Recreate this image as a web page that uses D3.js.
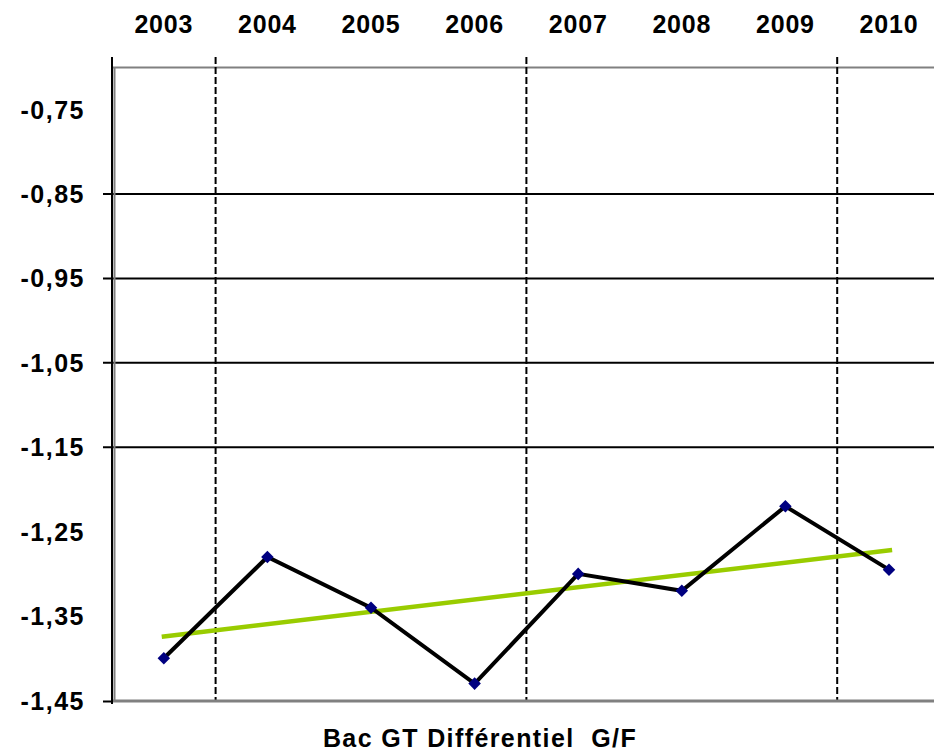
<!DOCTYPE html>
<html>
<head>
<meta charset="utf-8">
<script src="https://cdn.jsdelivr.net/npm/d3@7"></script>
<style>
  html, body { margin: 0; padding: 0; background: #fff; }
  svg { display: block; }
  text { font-family: "Liberation Sans", Arial, sans-serif; font-weight: bold; fill: #000; white-space: pre; }
</style>
</head>
<body>
<svg id="chart" width="934" height="751"></svg>
<script>
// Bac GT – différentiel G/F par année
const years = ["2003", "2004", "2005", "2006", "2007", "2008", "2009", "2010"];
const values = [-1.40, -1.28, -1.34, -1.43, -1.30, -1.32, -1.22, -1.295];
const yTicks = [-0.75, -0.85, -0.95, -1.05, -1.15, -1.25, -1.35, -1.45];
const gridValues = [-0.85, -0.95, -1.05, -1.15];
const separatorYears = ["2004", "2007", "2010"];
const xTitle = "Bac GT Différentiel  G/F";

const svg = d3.select("#chart");
const left = 112, bandW = 103.6;
const x = d3.scaleBand().domain(years).range([left, left + bandW * years.length]);
const y = d3.scaleLinear().domain([-1.45, -0.70]).range([700.5, 67.4]);
const cx = d => x(d) + x.bandwidth() / 2;
const fmt = v => d3.format(".2f")(v).replace(".", ",").replace("−", "-");

// horizontal gridlines
svg.append("g").selectAll("line").data(gridValues).join("line")
  .attr("x1", 103).attr("x2", 934)
  .attr("y1", d => y(d)).attr("y2", d => y(d))
  .attr("stroke", "#000").attr("stroke-width", 2);

// top frame
svg.append("line").attr("x1", left).attr("x2", 934)
  .attr("y1", y(-0.70)).attr("y2", y(-0.70))
  .attr("stroke", "#808080").attr("stroke-width", 2);

// vertical dashed separators
svg.append("g").selectAll("line").data(separatorYears).join("line")
  .attr("x1", d => x(d)).attr("x2", d => x(d))
  .attr("y1", 57).attr("y2", 700)
  .attr("stroke", "#000").attr("stroke-width", 2)
  .attr("stroke-dasharray", "7,3");

// inner grey left edge and bottom axis
svg.append("line").attr("x1", 114.5).attr("x2", 114.5)
  .attr("y1", y(-0.70)).attr("y2", 700)
  .attr("stroke", "#808080").attr("stroke-width", 2);
svg.append("line").attr("x1", left).attr("x2", 934)
  .attr("y1", y(-1.45) + 0.5).attr("y2", y(-1.45) + 0.5)
  .attr("stroke", "#808080").attr("stroke-width", 3);

// left axis line and bottom tick
svg.append("line").attr("x1", left).attr("x2", left)
  .attr("y1", 57).attr("y2", 704)
  .attr("stroke", "#000").attr("stroke-width", 2);
svg.append("line").attr("x1", 103).attr("x2", left)
  .attr("y1", y(-1.45) + 1).attr("y2", y(-1.45) + 1)
  .attr("stroke", "#000").attr("stroke-width", 2);

// y labels
svg.append("g").selectAll("text").data(yTicks).join("text")
  .attr("x", 85).attr("y", d => y(d))
  .attr("text-anchor", "end").attr("dominant-baseline", "central")
  .attr("font-size", 25).attr("letter-spacing", 1.5)
  .text(d => fmt(d));

// year labels on top
svg.append("g").selectAll("text").data(years).join("text")
  .attr("x", d => cx(d)).attr("y", 33)
  .attr("text-anchor", "middle")
  .attr("font-size", 25).attr("letter-spacing", 0.8)
  .text(d => d);

// linear trend (least squares)
const idx = years.map((_, i) => i);
const mx = d3.mean(idx), my = d3.mean(values);
const slope = d3.sum(idx, i => (i - mx) * (values[i] - my)) / d3.sum(idx, i => (i - mx) ** 2);
const intercept = my - slope * mx;
const xi = d3.scaleLinear().domain([0, years.length - 1]).range([cx(years[0]), cx(years[years.length - 1])]);
const trend = [-0.02, years.length - 1 + 0.03].map(t => [xi(t), y(intercept + slope * t)]);
svg.append("path")
  .attr("d", d3.line()(trend))
  .attr("fill", "none").attr("stroke", "#99cc00").attr("stroke-width", 4.5);

// data line
const line = d3.line().x((d, i) => cx(years[i])).y(d => y(d));
svg.append("path").datum(values)
  .attr("d", line)
  .attr("fill", "none").attr("stroke", "#000").attr("stroke-width", 4)
  .attr("stroke-linejoin", "miter");

// markers
svg.append("g").selectAll("path").data(values).join("path")
  .attr("transform", (d, i) => `translate(${cx(years[i])},${y(d)})`)
  .attr("d", d3.symbol(d3.symbolDiamond2, 100)())
  .attr("fill", "#000080");

// x title
svg.append("text")
  .attr("x", 480).attr("y", 747)
  .attr("text-anchor", "middle")
  .attr("font-size", 25).attr("letter-spacing", 1.4)
  .text(xTitle);
</script>
</body>
</html>
